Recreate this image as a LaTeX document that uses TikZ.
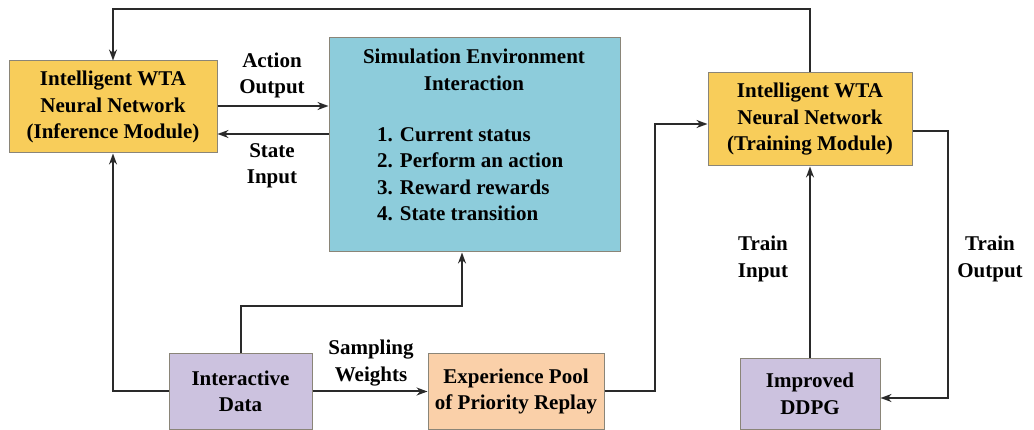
\documentclass[tikz,border=0pt]{standalone}
\usepackage{fontspec}
\setmainfont{Liberation Serif}
\usetikzlibrary{arrows.meta}
\definecolor{boxyellow}{HTML}{F8CD5A}
\definecolor{boxblue}{HTML}{8DCCDB}
\definecolor{boxpurple}{HTML}{CCC2DF}
\definecolor{boxpeach}{HTML}{FAD0A9}
\definecolor{edgegray}{HTML}{8A8578}
\definecolor{linegray}{HTML}{2A2A2A}
\tikzset{
  blk/.style={draw=edgegray, line width=1pt, inner sep=0pt, align=center,
    font=\fontsize{21}{26.5}\selectfont\bfseries},
  lbl/.style={align=center, inner sep=0pt, font=\fontsize{21}{26.5}\selectfont\bfseries},
  arr/.style={draw=linegray, line width=2pt, -{Stealth[length=11pt,width=8pt]}},
  wire/.style={draw=linegray, line width=2pt}
}
\begin{document}
\begin{tikzpicture}[x=1pt,y=-1pt]
\useasboundingbox (0,0) rectangle (1034,430);

% blocks
\node[blk, fill=boxyellow, minimum width=208pt, minimum height=92pt] (inf) at (113,107)
  {Intelligent WTA\\Neural Network\\(Inference Module)};
\node[blk, fill=boxblue, minimum width=291pt, minimum height=214pt] (sim) at (474.5,145) {};
\node[lbl] (simtitle) at (474,70) {Simulation Environment\\Interaction};
\node[lbl, align=left, anchor=west] (simlist) at (377,174)
  {1. Current status\\2. Perform an action\\3. Reward rewards\\4. State transition};
\node[blk, fill=boxyellow, minimum width=204pt, minimum height=93pt] (train) at (810,119.5)
  {Intelligent WTA\\Neural Network\\(Training Module)};
\node[blk, fill=boxpurple, minimum width=143pt, minimum height=75pt] (idata) at (240.5,391.5)
  {Interactive\\Data};
\node[blk, fill=boxpeach, minimum width=176pt, minimum height=75pt] (pool) at (516,391.5)
  {Experience Pool\\of Priority Replay};
\node[blk, fill=boxpurple, minimum width=140pt, minimum height=70pt] (ddpg) at (810,394)
  {Improved\\DDPG};

% edge labels
\node[lbl] (lao) at (272,75.5) {Action\\Output};
\node[lbl] (lsi) at (272,166) {State\\Input};
\node[lbl] (lsw) at (371,363) {Sampling\\Weights};
\node[lbl] (lti) at (763,259) {Train\\Input};
\node[lbl] (lto) at (990,259) {Train\\Output};

% routing points
\coordinate (topj) at (113,9);
\coordinate (ao) at ([yshift=1pt]inf.east);
\coordinate (si) at ([yshift=11pt]sim.west);
\coordinate (j1) at (462,306);
\coordinate (j2) at (655,124);
\coordinate (tout) at ([yshift=-11.5pt]train.east);
\coordinate (j3) at (948,398);

% connectors
\draw[arr] (train.north) |- (topj) -- (inf.north);
\draw[arr] (ao) -- (ao -| sim.west);
\draw[arr] (si) -- (si -| inf.east);
\draw[arr] (idata.west) -| (inf.south);
\draw[arr] (idata.north) |- (j1) -- (j1 |- sim.south);
\draw[arr] (idata.east) -- (pool.west);
\draw[arr] (pool.east) -| (j2) -- (j2 -| train.west);
\draw[arr] (ddpg.north) -- (train.south);
\draw[arr] (tout) -| (j3) -- (j3 -| ddpg.east);
\end{tikzpicture}
\end{document}
